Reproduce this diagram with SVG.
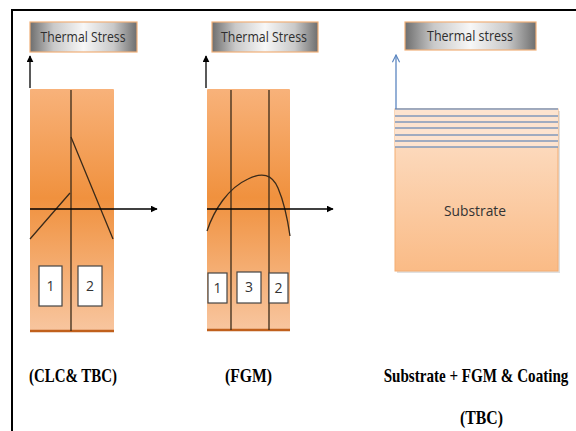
<svg xmlns="http://www.w3.org/2000/svg" width="576" height="431" viewBox="0 0 576 431">
<defs>
<linearGradient id="gLabel" x1="0" y1="0" x2="1" y2="0">
<stop offset="0" stop-color="#6e6e6e"/>
<stop offset="0.22" stop-color="#c9c9c9"/>
<stop offset="0.5" stop-color="#f7f7f7"/>
<stop offset="0.78" stop-color="#c9c9c9"/>
<stop offset="1" stop-color="#6e6e6e"/>
</linearGradient>
<linearGradient id="gPanel" x1="0" y1="0" x2="0" y2="1">
<stop offset="0" stop-color="#f8b27a"/>
<stop offset="0.45" stop-color="#f0913e"/>
<stop offset="1" stop-color="#f8c6a0"/>
</linearGradient>
<linearGradient id="gSub" x1="0" y1="0" x2="0" y2="1">
<stop offset="0" stop-color="#fde2cc"/>
<stop offset="1" stop-color="#fabb86"/>
</linearGradient>
<marker id="mBlack" viewBox="0 0 10 10" refX="9" refY="5" markerWidth="7" markerHeight="7" orient="auto" markerUnits="userSpaceOnUse">
<path d="M0,0 L10,5 L0,10 z" fill="#000"/>
</marker>
<marker id="mBlue" viewBox="0 0 10 10" refX="9" refY="5" markerWidth="9" markerHeight="9" orient="auto" markerUnits="userSpaceOnUse">
<path d="M1,1 L9,5 L1,9" fill="none" stroke="#5b86c0" stroke-width="1.3"/>
</marker>
</defs>
<style>
.label rect{fill:url(#gLabel);stroke:#f0b078;stroke-width:1.2}
.label text{font-family:"Open Sans","Noto Sans",sans-serif;font-size:14px;fill:#2e2e2e;text-anchor:middle}
.panel{fill:url(#gPanel)}
.base{stroke:#c0601c;stroke-width:2.5}
.div{stroke:#3a2a1a;stroke-width:1.3;fill:none}
.curve{stroke:#3a2a1a;stroke-width:1.3;fill:none}
.num rect{fill:#fff;stroke:#444;stroke-width:1.2}
.num text{font-family:"Open Sans","Noto Sans",sans-serif;font-size:14px;fill:#333;text-anchor:middle}
.cap{font-family:"Liberation Serif","Times New Roman",serif;font-weight:bold;font-size:19px;fill:#000}
.stripe{stroke:#8098bb;stroke-width:1.3}
.axis{stroke:#000;stroke-width:1.3;fill:none}
</style>
<rect width="576" height="431" fill="#fff"/>
<g id="frame" fill="none" stroke="#000" stroke-width="2">
<line x1="11" y1="10" x2="576" y2="10"/>
<line x1="12" y1="10" x2="12" y2="431"/>
</g>

<g id="label1" class="label"><rect x="30" y="22" width="107" height="30"/><text x="83" y="42" textLength="85" lengthAdjust="spacingAndGlyphs">Thermal Stress</text></g>
<g id="label2" class="label"><rect x="212" y="22" width="106" height="30"/><text x="264" y="42" textLength="86" lengthAdjust="spacingAndGlyphs">Thermal Stress</text></g>
<g id="label3" class="label"><rect x="405" y="22" width="131" height="28"/><text x="470" y="41" textLength="86" lengthAdjust="spacingAndGlyphs">Thermal stress</text></g>

<g id="panel1">
<rect class="panel" x="30" y="89" width="84" height="243" rx="1"/>
<line class="base" x1="30" y1="331" x2="114" y2="331"/>
<line class="div" x1="71" y1="90" x2="71" y2="331"/>
<path class="curve" d="M30,239 L70,193 M71,137 L113,239"/>
<g class="num"><rect x="39" y="266" width="23" height="40"/><text x="50.5" y="291">1</text></g>
<g class="num"><rect x="78" y="266" width="24" height="40"/><text x="90" y="291">2</text></g>
</g>

<g id="panel2">
<rect class="panel" x="207" y="89" width="83" height="242" rx="1"/>
<line class="base" x1="207" y1="330" x2="290" y2="330"/>
<line class="div" x1="231" y1="90" x2="231" y2="330"/>
<line class="div" x1="269" y1="90" x2="269" y2="330"/>
<path class="curve" d="M207,231 C214,210 228,188 248,179 C262,172 272,174 278,188 C284,202 288,222 290,236"/>
<g class="num"><rect x="208" y="273" width="19" height="30"/><text x="217.5" y="293">1</text></g>
<g class="num"><rect x="237" y="272" width="24" height="31"/><text x="249" y="292">3</text></g>
<g class="num"><rect x="269" y="273" width="19" height="30"/><text x="278.5" y="293">2</text></g>
</g>

<g id="substrate">
<rect x="397" y="111" width="163" height="162" fill="#000" opacity="0.12"/>
<rect x="395" y="109" width="163" height="162" fill="url(#gSub)" stroke="#f4ad72" stroke-width="1"/>
<rect x="395" y="109" width="163" height="38" fill="#fde3cf"/>
<g class="stripe">
<line x1="395" y1="109" x2="558" y2="109"/>
<line x1="395" y1="116" x2="558" y2="116"/>
<line x1="395" y1="122" x2="558" y2="122"/>
<line x1="395" y1="128" x2="558" y2="128"/>
<line x1="395" y1="135" x2="558" y2="135"/>
<line x1="395" y1="141" x2="558" y2="141"/>
<line x1="395" y1="147" x2="558" y2="147"/>
</g>
<text x="475" y="216" font-family="'Open Sans','Noto Sans',sans-serif" font-size="14" fill="#333" text-anchor="middle" textLength="62" lengthAdjust="spacingAndGlyphs">Substrate</text>
</g>

<g id="connectors">
<line class="axis" x1="30" y1="88" x2="30" y2="56" marker-end="url(#mBlack)"/>
<line class="axis" x1="206" y1="88" x2="206" y2="56" marker-end="url(#mBlack)"/>
<line class="axis" x1="30" y1="209" x2="157" y2="209" marker-end="url(#mBlack)"/>
<line class="axis" x1="207" y1="209" x2="333" y2="209" marker-end="url(#mBlack)"/>
<line x1="396" y1="109" x2="396" y2="55" stroke="#5b86c0" stroke-width="1.3" marker-end="url(#mBlue)"/>
</g>

<g id="captions">
<text class="cap" x="29" y="382" textLength="88" lengthAdjust="spacingAndGlyphs">(CLC&amp; TBC)</text>
<text class="cap" x="225" y="382" textLength="47" lengthAdjust="spacingAndGlyphs">(FGM)</text>
<text class="cap" transform="translate(476,382) scale(0.795,1)" x="0" y="0" text-anchor="middle">Substrate + FGM &amp; Coating</text>
<text class="cap" x="460" y="424" textLength="43" lengthAdjust="spacingAndGlyphs">(TBC)</text>
</g>
</svg>
